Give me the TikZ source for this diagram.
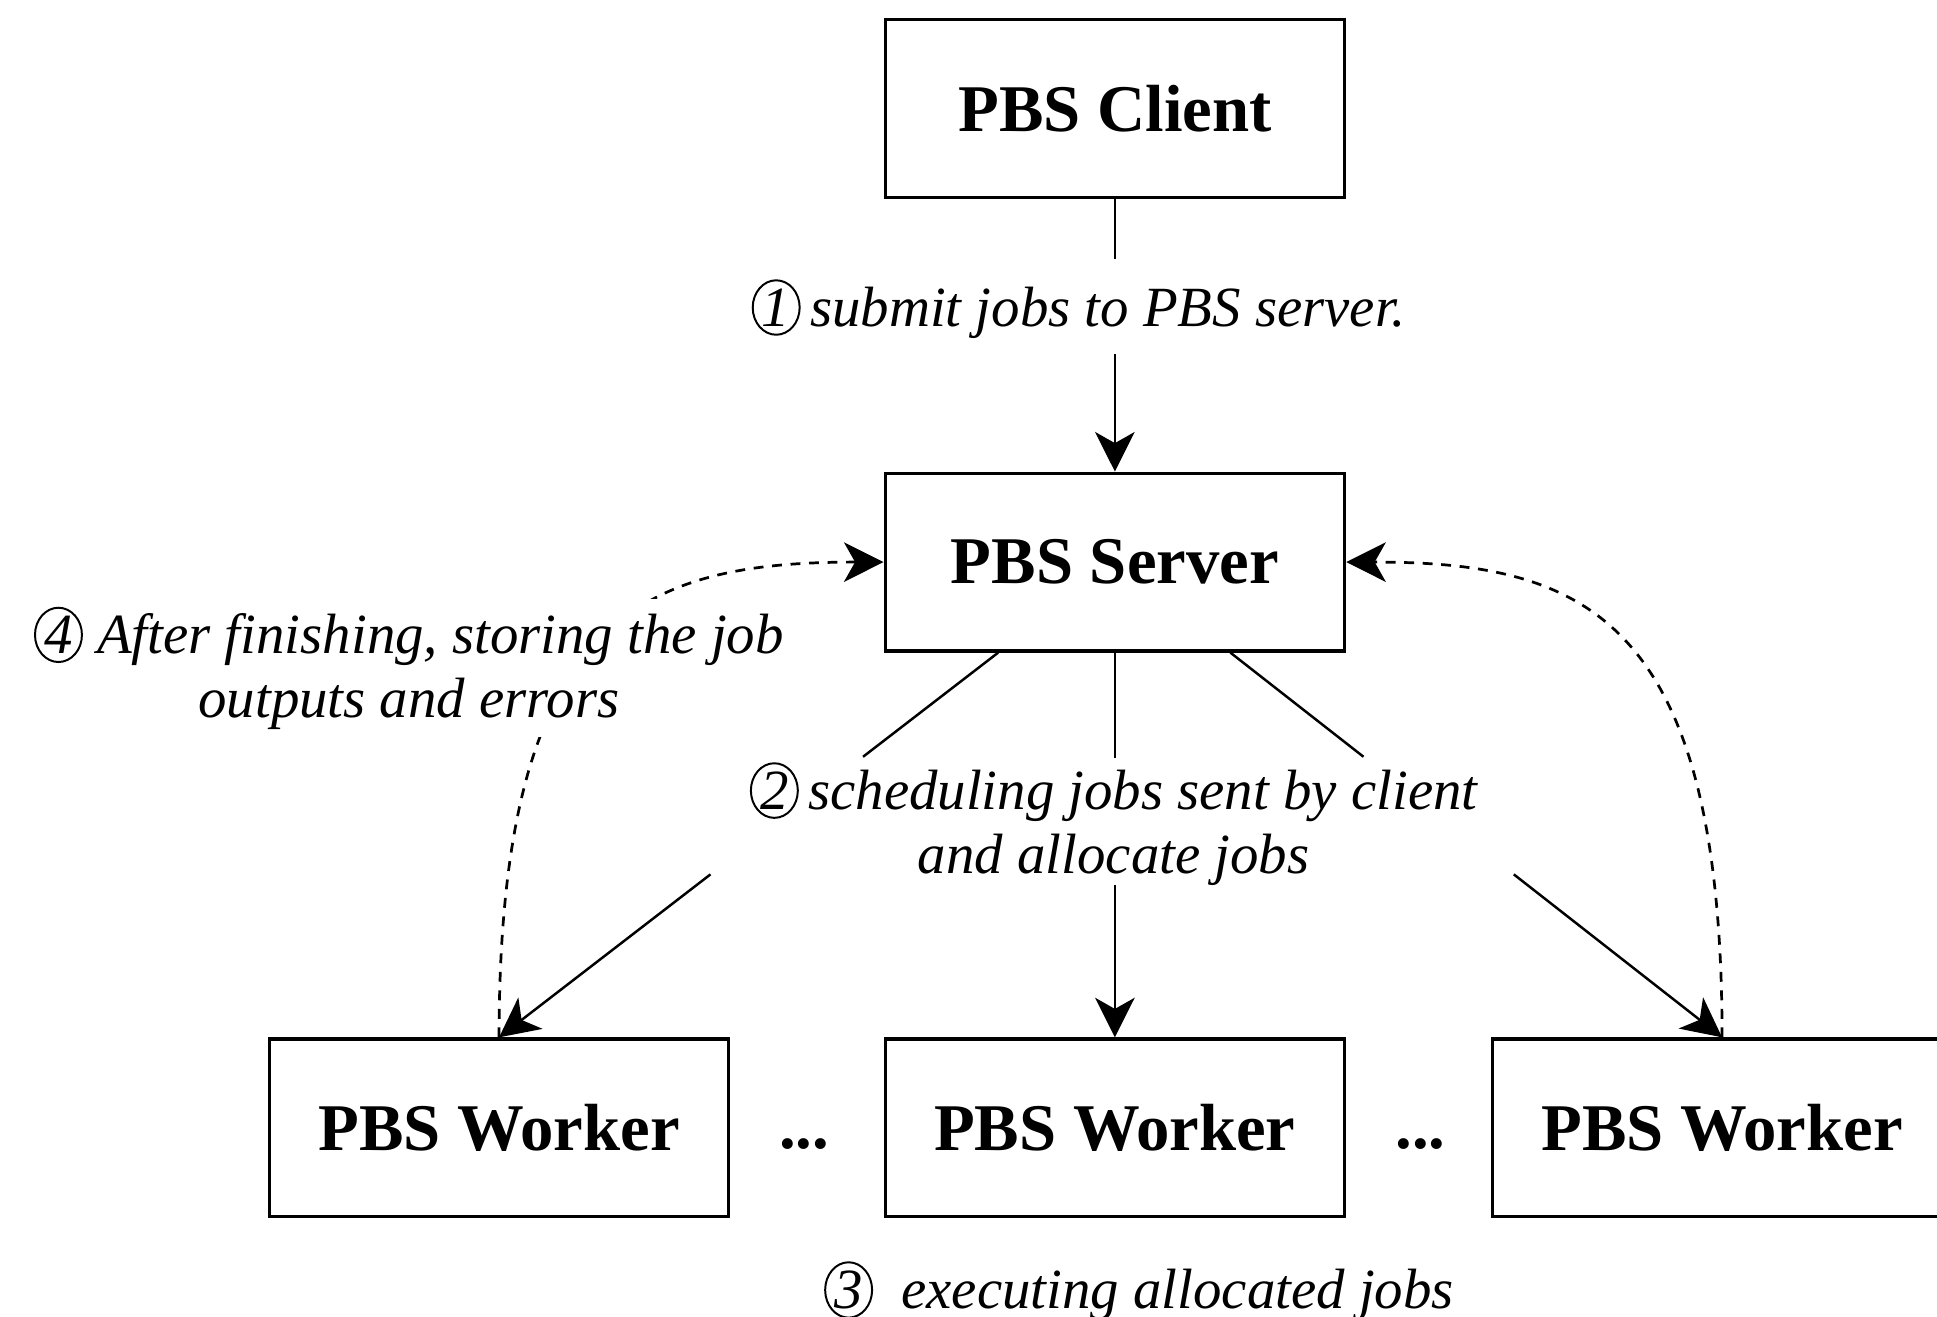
\documentclass[tikz,border=0pt]{standalone}
\usepackage{fontspec}
\setmainfont{Liberation Serif}
\usetikzlibrary{arrows.meta,calc,shapes.geometric}
\newcommand{\circnum}[1]{\tikz[baseline=(cn.base)]\node[ellipse,draw,line width=0.8pt,inner sep=0.2pt,minimum width=19pt,minimum height=20pt] (cn) {\itshape #1};}
\begin{document}
\begin{tikzpicture}[x=0.5pt,y=-0.5pt,
  box/.style={draw,line width=1.3pt,minimum width=186pt,minimum height=72pt,inner sep=0pt,font=\fontsize{27}{30}\selectfont\bfseries},
  lbl/.style={font=\fontsize{23}{26}\selectfont\itshape,align=center,inner sep=0pt},
  dots/.style={font=\fontsize{27}{30}\selectfont\bfseries,inner sep=0pt},
  conn/.style={line width=1pt},
  arr/.style={conn,-{Stealth[length=16pt,width=16pt,inset=4.5pt]}},
  dsh/.style={arr,line width=1.1pt,dash pattern=on 4pt off 3.5pt}]
\clip (0,0) rectangle (1568,1066);
\fill[white] (0,0) rectangle (1568,1066);

\node[box] (client) at (902.5,88) {PBS Client};
\node[box] (server) at (902.5,455) {PBS Server};
\node[box] (w1) at (404,913) {PBS Worker};
\node[box] (w2) at (902.5,913) {PBS Worker};
\node[box] (w3) at (1394,913) {PBS Worker};
\node[dots] (d1) at (651,926) {...};
\node[dots] (d2) at (1150,926) {...};

% step 1
\node[lbl] (l1) at (873,250) {\circnum{1}\,submit jobs to PBS server.};
\coordinate (g1a) at ($(client.south)+(0,48)$);
\coordinate (g1b) at ($(server.north)+(0,-95)$);
\draw[conn] (client.south) -- (g1a);
\draw[arr] (g1b) -- (server.north);

% step 2
\node[lbl] (l2) at (901.5,667) {\circnum{2}\,scheduling jobs sent by client\\and allocate jobs};
\coordinate (sL) at ($(server.south)+(-94.5,0)$);
\coordinate (sR) at ($(server.south)+(93.5,0)$);
\draw[conn] (sL) -- ($(sL)!0.2707!(w1.north)$);
\draw[arr] ($(sL)!0.5764!(w1.north)$) -- (w1.north);
\draw[conn] (sR) -- ($(sR)!0.2707!(w3.north)$);
\draw[arr] ($(sR)!0.5764!(w3.north)$) -- (w3.north);
\draw[conn] (server.south) -- ($(server.south)+(0,85)$);
\draw[arr] ($(w2.north)+(0,-123)$) -- (w2.north);

% step 4
\draw[dsh] (w1.north) .. controls ($(w1.north)+(0,-341)$) and ($(server.west)+(-196,0)$) .. (server.west);
\draw[dsh] (w3.north) .. controls ($(w3.north)+(0,-341)$) and ($(server.east)+(192,0)$) .. (server.east);
\node[lbl,fill=white,inner xsep=4pt,inner ysep=3pt] (l4) at (331,541) {\circnum{4}\ After finishing, storing the job\\outputs and errors};

% step 3
\node[lbl] (l3) at (922,1045) {\circnum{3}\ \ executing allocated jobs};
\end{tikzpicture}
\end{document}
